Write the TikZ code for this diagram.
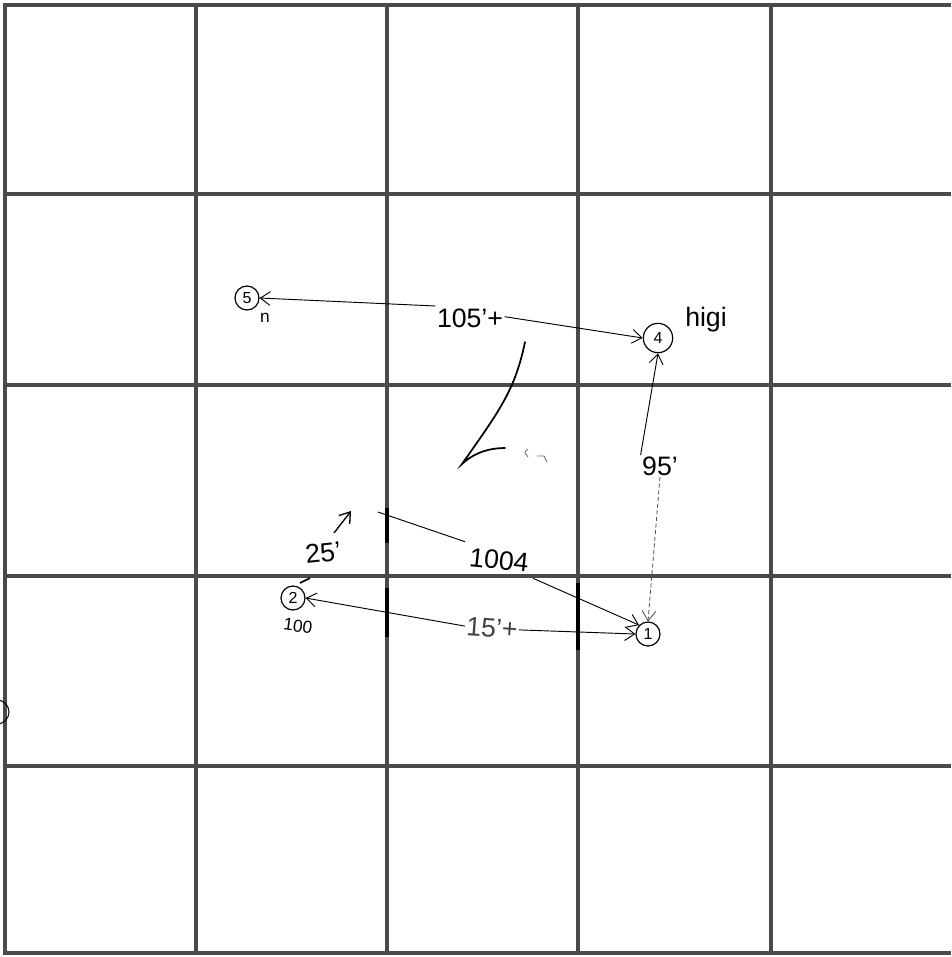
\documentclass[tikz,border=0pt]{standalone}
\usepackage{fontspec}
\setmainfont{Liberation Sans}
\usetikzlibrary{arrows.meta}
\definecolor{gridgray}{HTML}{4A4A4A}
\tikzset{
  gridline/.style={draw=gridgray, line width=3.4pt},
  wallmark/.style={draw=black, line width=3.2pt},
  circ/.style={circle, draw=black, line width=0.9pt, inner sep=1pt, minimum size=18pt, font=\fontsize{12}{12}\selectfont},
  hand/.style={font=\fontsize{20}{22}\selectfont, inner sep=1pt},
  small/.style={font=\fontsize{13}{13}\selectfont, inner sep=1pt},
  conn/.style={draw=black, line width=0.7pt, -{Straight Barb[angle=70:9pt]}},
  faint/.style={draw=black!70, line width=0.6pt, dash pattern=on 3pt off 2pt, -{Straight Barb[angle=70:9pt]}},
  stroke/.style={draw=black, line width=1.3pt, line cap=round}
}
\begin{document}
\begin{tikzpicture}[x=0.75pt,y=-0.75pt]
\useasboundingbox (0,0) rectangle (951,957);
\fill[white] (0,0) rectangle (951,957);
% grid
\foreach \x in {5,196,387,578,771} \draw[gridline] (\x,3) -- (\x,955);
\foreach \y in {5,194,385,576,766,953} \draw[gridline] (3,\y) -- (951,\y);
% wall marks
\draw[wallmark] (387,508) -- (387,543);
\draw[wallmark] (387,588) -- (387,637);
\draw[wallmark] (578,583) -- (578,650);
% nodes
\node[circ] (n5) at (247,298) {5};
\node[circ, minimum size=22pt] (n4) at (658,338) {4};
\node[circ] (n1) at (648,634) {1};
\node[circ] (n2) at (293,598) {2};
% labels
\node[hand] (l105) at (470,318) {105'+};
\node[hand] (lhigh) at (706,320) {higi};
\node[small] (ln) at (265,318) {n};
\node[hand] (l95) at (660,466) {95'};
\node[hand, rotate=-6] (l100) at (499,560) {1004};
\node[hand, rotate=-4, text=black!75] (l15) at (492,628) {15'+};
\node[hand, rotate=6] (l25) at (323,553) {25'};
\node[small, rotate=-8] (l2n) at (298,626) {100};
% connectors
\draw[conn] ([yshift=9pt]l105.west) -- (n5.east);
\draw[conn] ([yshift=1pt]l105.east) -- (n4.west);
\draw[conn] (l95.north west) -- (n4.south);
\draw[faint] (l95.south) -- (n1.north);
\coordinate (s100) at (378,512);
\draw[draw=black, line width=0.7pt] (s100) -- ([shift={(-3pt,3pt)}]l100.north west);
\draw[conn] ([shift={(3pt,-3pt)}]l100.south east) -- (n1.north west);
\draw[conn] (l15.west) -- (n2.east);
\draw[conn] (l15.east) -- (n1.west);
\coordinate (a25s) at (334,533);
\coordinate (a25e) at (351,511);
\draw[conn, line width=1pt] (a25s) -- (a25e);
% hand strokes
\draw[stroke] (525,342) .. controls (515,390) and (500,410) .. (462,464) .. controls (475,452) and (490,448) .. (505,448);
\draw[black!60, line width=0.6pt] (528,449) .. controls (524,452) .. (528,457);
\draw[black!60, line width=0.6pt] (537,456) -- (544,456) -- (547,462);
\draw[black, line width=1.2pt] (300,583) -- (310,578);
\draw[black, line width=0.8pt] (-3,700) arc[start angle=-90, end angle=90, radius=12];
\end{tikzpicture}
\end{document}
